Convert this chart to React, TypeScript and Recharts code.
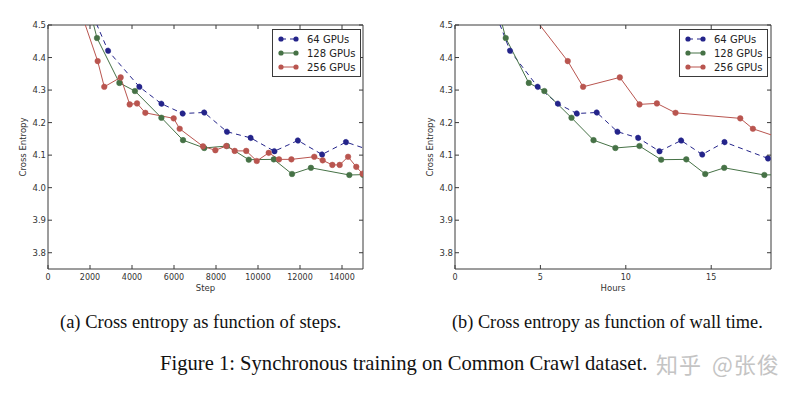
import { LineChart, Line, XAxis, YAxis, Legend, ReferenceArea } from "recharts"

// ticks
const stepTicks = [0, 2000, 4000, 6000, 8000, 10000, 12000, 14000]
const hourTicks = [0, 5, 10, 15]
const entropyTicks = [3.8, 3.9, 4.0, 4.1, 4.2, 4.3, 4.4, 4.5]

// 64 GPUs
const steps64 = [1800, 2860, 4350, 5400, 6410, 7440, 8520, 9650, 10780, 11900, 13050, 14190, 16500]
const hours64 = [2.05, 3.22, 4.84, 6.02, 7.13, 8.3, 9.51, 10.72, 11.97, 13.24, 14.47, 15.78, 18.32]
const loss64 = [4.58, 4.421, 4.31, 4.258, 4.228, 4.231, 4.172, 4.153, 4.112, 4.145, 4.102, 4.14, 4.09]

// 128 GPUs
const steps128 = [1500, 2333, 3400, 4140, 5400, 6430, 7440, 8520, 9560, 10750, 11620, 12520, 14350, 15000]
const hours128 = [1.92, 2.97, 4.32, 5.23, 6.82, 8.11, 9.39, 10.8, 12.07, 13.54, 14.65, 15.76, 18.11, 18.95]
const loss128 = [4.67, 4.46, 4.322, 4.297, 4.215, 4.146, 4.122, 4.128, 4.086, 4.087, 4.042, 4.061, 4.039, 4.04]

// 256 GPUs
const steps256 = [
  1300, 2365, 2680, 3460, 3890, 4240, 4635, 5985, 6270, 7380, 7970, 8490, 8890, 9440, 9940, 10510, 11000, 11590,
  12680, 13080, 13540, 13890, 14290, 14680, 14980,
]
const hours256 = [3.64, 6.6, 7.5, 9.65, 10.8, 11.82, 12.91, 16.7, 17.44, 20.52]
const loss256 = [
  4.59, 4.389, 4.31, 4.339, 4.256, 4.259, 4.23, 4.213, 4.181, 4.127, 4.115, 4.128, 4.113, 4.113, 4.082, 4.107, 4.087,
  4.087, 4.095, 4.084, 4.07, 4.07, 4.095, 4.064, 4.043,
]

const BLUE = "#24248a"
const GREEN = "#467246"
const RED = "#b9554f"
const FRAME = "#3a3a3a"
const TOP = 25
const BOTTOM = 269
const SANS = "DejaVu Sans, sans-serif"
const SERIF = "Liberation Serif, serif"

const series = [
  { name: "64 GPUs", color: BLUE, dash: "5 4" },
  { name: "128 GPUs", color: GREEN, dash: undefined },
  { name: "256 GPUs", color: RED, dash: undefined },
]

const pair = (xs: number[], ys: number[]) => xs.map((x, i) => ({ x, y: ys[i] }))

const makeXTick = () => (props: any) => {
  const { x, payload } = props
  return (
    <g>
      <line x1={x} x2={x} y1={BOTTOM} y2={BOTTOM - 4} stroke={FRAME} />
      <line x1={x} x2={x} y1={TOP} y2={TOP + 4} stroke={FRAME} />
      <text x={x} y={BOTTOM + 11} textAnchor="middle" fontSize={8} fontFamily={SANS} fill="#333">
        {payload.value}
      </text>
    </g>
  )
}

const makeYTick = (left: number, right: number) => (props: any) => {
  const { y, payload } = props
  return (
    <g>
      <line x1={left} x2={left + 4} y1={y} y2={y} stroke={FRAME} />
      <line x1={right} x2={right - 4} y1={y} y2={y} stroke={FRAME} />
      <text x={left - 2} y={y + 3} textAnchor="end" fontSize={8.5} fontFamily={SANS} fill="#333">
        {payload.value.toFixed(1)}
      </text>
    </g>
  )
}

const yLabel = (cx: number) => () => (
  <text
    x={cx}
    y={(TOP + BOTTOM) / 2}
    transform={`rotate(-90 ${cx} ${(TOP + BOTTOM) / 2})`}
    textAnchor="middle"
    dominantBaseline="central"
    fontSize={8.5}
    fontFamily={SANS}
    fill="#333"
  >
    Cross Entropy
  </text>
)

function LegendBox() {
  return (
    <div
      style={{
        border: `1px solid ${FRAME}`,
        background: "#fff",
        padding: "2px 4px 2px 4px",
        fontFamily: SANS,
        fontSize: 10,
        color: "#222",
      }}
    >
      {series.map((s) => (
        <div key={s.name} style={{ display: "flex", alignItems: "center", height: 14 }}>
          <svg width={24} height={10} style={{ marginRight: 6 }}>
            <line x1={4} x2={19} y1={5} y2={5} stroke={s.color} strokeDasharray={s.dash} />
            <circle cx={4} cy={5} r={2.6} fill={s.color} />
            <circle cx={19} cy={5} r={2.6} fill={s.color} />
          </svg>
          <span>{s.name}</span>
        </div>
      ))}
    </div>
  )
}

function Panel(props: {
  sets: { x: number; y: number }[][]
  xMax: number
  xTicks: number[]
  xLabel: string
  marginLeft: number
  marginRight: number
  legendLeft: number
}) {
  const { sets, xMax, xTicks, xLabel, marginLeft, marginRight, legendLeft } = props
  const left = marginLeft + 30
  const right = 400 - marginRight
  return (
    <LineChart width={400} height={300} margin={{ top: TOP, right: marginRight, bottom: 6, left: marginLeft }}>
      <XAxis
        type="number"
        dataKey="x"
        domain={[0, xMax]}
        ticks={xTicks}
        interval={0}
        allowDataOverflow
        height={25}
        axisLine={false}
        tickLine={false}
        tick={makeXTick()}
        label={{ value: xLabel, position: "insideBottom", offset: 3, fontSize: 8.5, fontFamily: SANS, fill: "#333" }}
      />
      <YAxis
        type="number"
        dataKey="y"
        domain={[3.75, 4.5]}
        ticks={entropyTicks}
        interval={0}
        allowDataOverflow
        width={30}
        axisLine={false}
        tickLine={false}
        tick={makeYTick(left, right)}
        label={yLabel(left - 25)}
      />
      <ReferenceArea x1={0} x2={xMax} y1={3.75} y2={4.5} fill="none" stroke={FRAME} strokeWidth={1} />
      {series.map((s, i) => (
        <Line
          key={s.name}
          data={sets[i]}
          dataKey="y"
          name={s.name}
          type="linear"
          stroke={s.color}
          strokeWidth={1}
          strokeDasharray={s.dash}
          dot={{ r: 2.8, fill: s.color, stroke: s.color, strokeWidth: 0.5 }}
          activeDot={false}
          isAnimationActive={false}
        />
      ))}
      <Legend
        layout="horizontal"
        verticalAlign="middle"
        align="center"
        content={() => <LegendBox />}
        wrapperStyle={{ top: 29, left: legendLeft, width: "auto", height: "auto" }}
      />
    </LineChart>
  )
}

const caption = (left: number, top: number, size: number) => ({
  position: "absolute" as const,
  left,
  top,
  fontFamily: SERIF,
  fontSize: size,
  lineHeight: `${size + 2}px`,
  color: "#111",
  whiteSpace: "nowrap" as const,
})

export default function App() {
  const stepSets = [pair(steps64, loss64), pair(steps128, loss128), pair(steps256, loss256)]
  const hourSets = [pair(hours64, loss64), pair(hours128, loss128), pair(hours256, loss256)]
  return (
    <div style={{ position: "absolute", left: 0, top: 0, width: 800, height: 394, background: "#fff", overflow: "hidden" }}>
      <div style={{ position: "absolute", left: 0, top: 0 }}>
        <Panel sets={stepSets} xMax={15000} xTicks={stepTicks} xLabel="Step" marginLeft={18} marginRight={37} legendLeft={272} />
      </div>
      <div style={{ position: "absolute", left: 400, top: 0 }}>
        <Panel sets={hourSets} xMax={18.5} xTicks={hourTicks} xLabel="Hours" marginLeft={25} marginRight={29} legendLeft={279} />
      </div>
      <div style={caption(60, 312, 18.5)}>(a) Cross entropy as function of steps.</div>
      <div style={caption(452, 312, 18.3)}>(b) Cross entropy as function of wall time.</div>
      <div style={caption(160, 352, 20.6)}>Figure 1: Synchronous training on Common Crawl dataset.</div>
      <div
        style={{
          position: "absolute",
          left: 656,
          top: 350,
          fontFamily: "Noto Sans CJK SC, sans-serif",
          fontSize: 22,
          lineHeight: "26px",
          color: "#c4c4c4",
          whiteSpace: "nowrap",
          letterSpacing: 1,
          wordSpacing: 4,
        }}
      >
        知乎 @张俊
      </div>
    </div>
  )
}
